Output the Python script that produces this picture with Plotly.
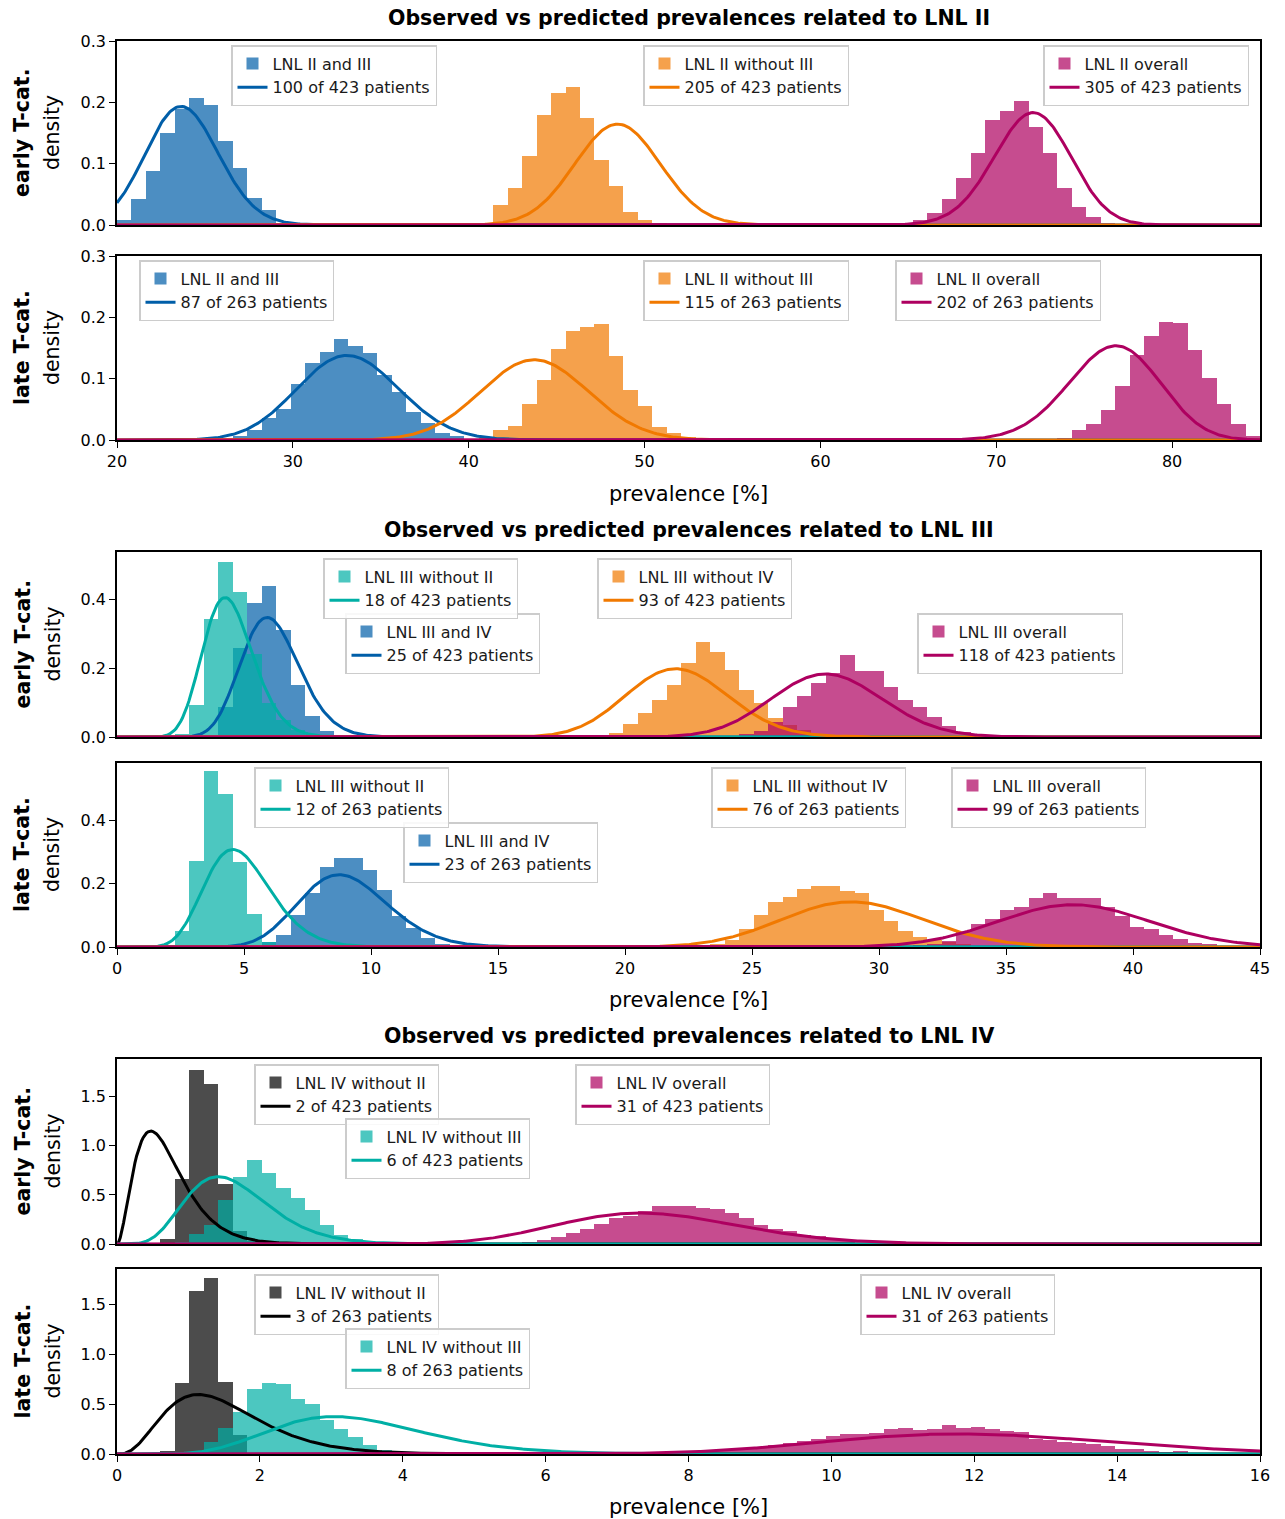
import math
import numpy as np
import plotly.graph_objects as go

W, H = 1285, 1519
FONT = "DejaVu Sans"

# line colours; histograms reuse them with transparency
BLUE = "#005ea8"
ORANGE = "#f17900"
RED = "#ae0060"
GREEN = "#00afa5"
BLACK = "#000000"

N_EARLY = 423
N_LATE = 263

# prevalence ranges [%] of the three panel groups, histograms use 79 equal bins
RANGE_II = (20, 85)
RANGE_III = (0, 45)
RANGE_IV = (0, 16)
N_BINS = 79

# ---------------- LNL II ----------------
ii_early_counts = [100, 205, 305]
ii_late_counts = [87, 115, 202]
# (first bin index, densities)
ii_early_and_iii = (0, [0.008, 0.042, 0.0875, 0.150, 0.189, 0.2065, 0.1957, 0.137, 0.093, 0.0435, 0.025, 0.003])
ii_early_without_iii = (25, [0.002, 0.033, 0.061, 0.113, 0.180, 0.215, 0.2255, 0.174, 0.1065, 0.063, 0.021, 0.008, 0.004])
ii_early_overall = (54, [0.003, 0.008, 0.019, 0.042, 0.077, 0.117, 0.172, 0.186, 0.2016, 0.160, 0.117, 0.060, 0.029, 0.0136, 0.003])
ii_late_and_iii = (7, [0.002, 0.0065, 0.016, 0.036, 0.050, 0.092, 0.125, 0.1436, 0.165, 0.153, 0.1415, 0.1057, 0.079, 0.0455, 0.027, 0.012, 0.0065, 0.002])
ii_late_without_iii = (24, [0.001, 0.004, 0.016, 0.023, 0.0585, 0.0976, 0.148, 0.177, 0.185, 0.1886, 0.1377, 0.0813, 0.0558, 0.0217, 0.0108, 0.0054, 0.002])
ii_late_overall = (64, [0.002, 0.004, 0.0157, 0.0255, 0.0488, 0.0878, 0.138, 0.169, 0.192, 0.190, 0.1474, 0.1003, 0.0585, 0.026, 0.007])

# ---------------- LNL III ----------------
iii_early_counts = [18, 25, 93, 118]
iii_late_counts = [12, 23, 76, 99]
iii_early_without_ii = (4, [0.01, 0.093, 0.343, 0.509, 0.422, 0.24, 0.10, 0.05, 0.02, 0.005])
iii_early_and_iv = (6, [0.005, 0.087, 0.26, 0.391, 0.44, 0.311, 0.151, 0.062, 0.018])
iii_early_without_iv = (32, [0.002, 0.005, 0.0126, 0.038, 0.0707, 0.1075, 0.151, 0.214, 0.277, 0.246, 0.195, 0.1366, 0.0988, 0.054, 0.035, 0.02, 0.01, 0.005])
iii_early_overall = (43, [0.01, 0.018, 0.045, 0.086, 0.12, 0.156, 0.187, 0.238, 0.193, 0.193, 0.144, 0.1065, 0.086, 0.059, 0.032, 0.0155, 0.005])
iii_late_without_ii = (3, [0.005, 0.05, 0.272, 0.557, 0.4855, 0.268, 0.103, 0.017, 0.005])
iii_late_and_iv = (10, [0.017, 0.038, 0.101, 0.172, 0.252, 0.281, 0.283, 0.243, 0.180, 0.099, 0.059, 0.0296, 0.01, 0.004])
iii_late_without_iv = (41, [0.008, 0.022, 0.057, 0.101, 0.1435, 0.160, 0.1836, 0.192, 0.192, 0.177, 0.171, 0.117, 0.083, 0.0507, 0.032, 0.022, 0.015, 0.008, 0.004])
iii_late_overall = (55, [0.005, 0.01, 0.019, 0.0486, 0.074, 0.0887, 0.117, 0.128, 0.156, 0.172, 0.156, 0.154, 0.154, 0.128, 0.097, 0.063, 0.058, 0.037, 0.026, 0.0137, 0.01, 0.004, 0.002, 0.001])

# ---------------- LNL IV ----------------
iv_early_counts = [2, 6, 31]
iv_late_counts = [3, 8, 31]
iv_early_without_ii = (3, [0.047, 0.664, 1.776, 1.634, 0.614, 0.132, 0.03])
iv_early_without_iii = (4, [0.02, 0.105, 0.193, 0.447, 0.681, 0.854, 0.725, 0.573, 0.471, 0.342, 0.193, 0.0915, 0.047, 0.024, 0.01])
iv_early_overall = (26, [0.005, 0.012, 0.024, 0.044, 0.071, 0.108, 0.156, 0.207, 0.268, 0.285, 0.34, 0.385, 0.39, 0.385, 0.37, 0.355, 0.312, 0.268, 0.193, 0.156, 0.129, 0.0915, 0.078, 0.047, 0.027, 0.015, 0.008, 0.004])
iv_late_without_ii = (3, [0.033, 0.715, 1.633, 1.756, 0.722, 0.19])
iv_late_without_iii = (5, [0.01, 0.116, 0.26, 0.419, 0.649, 0.715, 0.702, 0.549, 0.502, 0.336, 0.253, 0.17, 0.093, 0.043, 0.02, 0.008])
iv_late_overall = (36, [0.005, 0.01, 0.018, 0.025, 0.033, 0.037, 0.043, 0.05, 0.07, 0.09, 0.11, 0.133, 0.15, 0.176,
                        0.203, 0.203, 0.21, 0.25, 0.26, 0.243, 0.25, 0.286, 0.263, 0.27, 0.253, 0.226, 0.216, 0.15,
                        0.136, 0.123, 0.11, 0.103, 0.083, 0.053, 0.053, 0.033, 0.023, 0.027, 0.013, 0.01, 0.007, 0.005, 0.004])


def rgba(hex_color, alpha):
    h = hex_color.lstrip("#")
    r, g, b = int(h[0:2], 16), int(h[2:4], 16), int(h[4:6], 16)
    return f"rgba({r},{g},{b},{alpha})"


def beta_pdf_percent(x_pct, k, n):
    """Beta(k+1, n-k+1) posterior of a prevalence, as density per percent."""
    a, b = k + 1.0, n - k + 1.0
    p = np.clip(np.asarray(x_pct) / 100.0, 1e-12, 1 - 1e-12)
    log_b = math.lgamma(a) + math.lgamma(b) - math.lgamma(a + b)
    return np.exp((a - 1) * np.log(p) + (b - 1) * np.log(1 - p) - log_b) / 100.0


# panel layout: (top px, bottom px) of each axes box
ROWS = [(41, 225), (256, 440), (552, 737), (763, 947), (1059, 1244), (1269, 1454)]
X_LEFT, X_RIGHT = 117, 1260
XRANGES = [RANGE_II, RANGE_II, RANGE_III, RANGE_III, RANGE_IV, RANGE_IV]
XDTICK = [10, 10, 5, 5, 2, 2]
YRANGES = [0.3, 0.3, 0.538, 0.583, 1.885, 1.85]
YDTICK = [0.1, 0.1, 0.2, 0.2, 0.5, 0.5]

# each entry: panel, histogram, label, observed count, total, colour, legend top-left (px)
series = [
    (1, ii_early_and_iii, "LNL II and III", ii_early_counts[0], N_EARLY, BLUE, (231, 45)),
    (1, ii_early_without_iii, "LNL II without III", ii_early_counts[1], N_EARLY, ORANGE, (643, 45)),
    (1, ii_early_overall, "LNL II overall", ii_early_counts[2], N_EARLY, RED, (1043, 45)),
    (2, ii_late_and_iii, "LNL II and III", ii_late_counts[0], N_LATE, BLUE, (139, 260)),
    (2, ii_late_without_iii, "LNL II without III", ii_late_counts[1], N_LATE, ORANGE, (643, 260)),
    (2, ii_late_overall, "LNL II overall", ii_late_counts[2], N_LATE, RED, (895, 260)),
    (3, iii_early_and_iv, "LNL III and IV", iii_early_counts[1], N_EARLY, BLUE, (345, 613)),
    (3, iii_early_without_ii, "LNL III without II", iii_early_counts[0], N_EARLY, GREEN, (323, 558)),
    (3, iii_early_without_iv, "LNL III without IV", iii_early_counts[2], N_EARLY, ORANGE, (597, 558)),
    (3, iii_early_overall, "LNL III overall", iii_early_counts[3], N_EARLY, RED, (917, 613)),
    (4, iii_late_and_iv, "LNL III and IV", iii_late_counts[1], N_LATE, BLUE, (403, 822)),
    (4, iii_late_without_ii, "LNL III without II", iii_late_counts[0], N_LATE, GREEN, (254, 767)),
    (4, iii_late_without_iv, "LNL III without IV", iii_late_counts[2], N_LATE, ORANGE, (711, 767)),
    (4, iii_late_overall, "LNL III overall", iii_late_counts[3], N_LATE, RED, (951, 767)),
    (5, iv_early_without_ii, "LNL IV without II", iv_early_counts[0], N_EARLY, BLACK, (254, 1064)),
    (5, iv_early_without_iii, "LNL IV without III", iv_early_counts[1], N_EARLY, GREEN, (345, 1118)),
    (5, iv_early_overall, "LNL IV overall", iv_early_counts[2], N_EARLY, RED, (575, 1064)),
    (6, iv_late_without_ii, "LNL IV without II", iv_late_counts[0], N_LATE, BLACK, (254, 1274)),
    (6, iv_late_without_iii, "LNL IV without III", iv_late_counts[1], N_LATE, GREEN, (345, 1328)),
    (6, iv_late_overall, "LNL IV overall", iv_late_counts[2], N_LATE, RED, (860, 1274)),
]

fig = go.Figure()
legend_layout = {}

# histograms (bars) first, so every predicted curve lies above them
for idx, (panel, (k0, dens), label, k, n, color, _) in enumerate(series):
    lo, hi = XRANGES[panel - 1]
    width = (hi - lo) / N_BINS
    centers = [lo + (k0 + i + 0.5) * width for i in range(len(dens))]
    leg = "legend" if idx == 0 else f"legend{idx + 1}"
    fig.add_trace(go.Bar(
        x=centers, y=dens, width=width, name=label,
        marker=dict(color=rgba(color, 0.7), line=dict(width=0)),
        xaxis=f"x{panel}", yaxis=f"y{panel}", legend=leg, hoverinfo="skip",
    ))

for idx, (panel, _, label, k, n, color, _) in enumerate(series):
    lo, hi = XRANGES[panel - 1]
    xs = np.linspace(lo, hi, 700)
    leg = "legend" if idx == 0 else f"legend{idx + 1}"
    fig.add_trace(go.Scatter(
        x=xs, y=beta_pdf_percent(xs, k, n), mode="lines",
        name=f"{k} of {n} patients", line=dict(color=color, width=3),
        xaxis=f"x{panel}", yaxis=f"y{panel}", legend=leg, hoverinfo="skip",
    ))

for idx, item in enumerate(series):
    px, py = item[6]
    key = "legend" if idx == 0 else f"legend{idx + 1}"
    legend_layout[key] = dict(
        x=px / W, y=1 - py / H, xanchor="left", yanchor="top",
        bgcolor="rgba(255,255,255,0.85)", bordercolor="#cccccc", borderwidth=1.5,
        font=dict(family=FONT, size=16, color="#1a1a1a"),
        tracegroupgap=0, itemwidth=30, traceorder="normal",
    )

axes = {}
for i, (top, bot) in enumerate(ROWS, start=1):
    lo, hi = XRANGES[i - 1]
    bottom_of_group = i % 2 == 0
    axes[f"xaxis{i}"] = dict(
        domain=[X_LEFT / W, X_RIGHT / W], range=[lo, hi], anchor=f"y{i}",
        showline=True, linecolor="black", linewidth=1.5, mirror=True,
        showgrid=False, zeroline=False, automargin=False,
        ticks="outside" if bottom_of_group else "", ticklen=6, tickwidth=1.3, tickcolor="black",
        showticklabels=bottom_of_group, tick0=lo, dtick=XDTICK[i - 1],
        tickfont=dict(family=FONT, size=16, color="black"), layer="below traces",
    )
    axes[f"yaxis{i}"] = dict(
        domain=[1 - bot / H, 1 - top / H], range=[0, YRANGES[i - 1]], anchor=f"x{i}",
        showline=True, linecolor="black", linewidth=1.5, mirror=True,
        showgrid=False, zeroline=False, automargin=False,
        ticks="outside", ticklen=6, tickwidth=1.3, tickcolor="black",
        tick0=0, dtick=YDTICK[i - 1], tickformat=".1f",
        tickfont=dict(family=FONT, size=16, color="black"), layer="below traces",
    )

annotations = []
titles = [
    ("Observed vs predicted prevalences related to LNL II", 18),
    ("Observed vs predicted prevalences related to LNL III", 530),
    ("Observed vs predicted prevalences related to LNL IV", 1036),
]
for text, y in titles:
    annotations.append(dict(text=f"<b>{text}</b>", x=(X_LEFT + X_RIGHT) / 2 / W, y=1 - y / H,
                            xref="paper", yref="paper", showarrow=False,
                            xanchor="center", yanchor="middle",
                            font=dict(family=FONT, size=20.5, color="black")))
for y in (494, 1000, 1507):
    annotations.append(dict(text="prevalence [%]", x=(X_LEFT + X_RIGHT) / 2 / W, y=1 - y / H,
                            xref="paper", yref="paper", showarrow=False,
                            xanchor="center", yanchor="middle",
                            font=dict(family=FONT, size=21, color="black")))
for i, (top, bot) in enumerate(ROWS):
    yc = 1 - (top + bot) / 2 / H
    tcat = "early T-cat." if i % 2 == 0 else "late T-cat."
    annotations.append(dict(text=f"<b>{tcat}</b>", x=22 / W, y=yc, xref="paper", yref="paper",
                            showarrow=False, textangle=-90, xanchor="center", yanchor="middle",
                            font=dict(family=FONT, size=20.5, color="black")))
    annotations.append(dict(text="density", x=52 / W, y=yc, xref="paper", yref="paper",
                            showarrow=False, textangle=-90, xanchor="center", yanchor="middle",
                            font=dict(family=FONT, size=20.5, color="black")))

fig.update_layout(
    width=W, height=H,
    margin=dict(l=0, r=0, t=0, b=0, autoexpand=False),
    paper_bgcolor="white", plot_bgcolor="white",
    barmode="overlay", bargap=0,
    font=dict(family=FONT, color="black"),
    annotations=annotations,
    **axes,
    **legend_layout,
)

fig.write_html("out.html")
